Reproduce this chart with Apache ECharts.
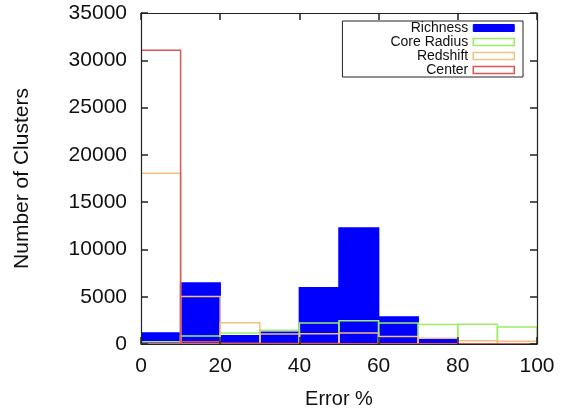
<!DOCTYPE html>
<html>
<head>
<meta charset="utf-8">
<script src="https://cdn.jsdelivr.net/npm/echarts@6/dist/echarts.min.js"></script>
<style>
  html, body { margin: 0; padding: 0; background: #fff; }
  #chart { width: 561px; height: 415px; }
</style>
</head>
<body>
<div id="chart"></div>
<script>
// bin left edges (Error %), each bin is 10 wide
var binStarts = [0, 10, 20, 30, 40, 50, 60, 70, 80, 90];
var binWidth = 10;

var richness   = [1150, 6450, 880, 1250, 5950, 12270, 2850, 480, 0, 0];
var coreRadius = [250, 850, 1150, 1450, 2220, 2460, 2230, 2050, 2100, 1800];
var redshift   = [18050, 5030, 2250, 1050, 1080, 1150, 800, 600, 350, 280];
var center     = [31050, 250, 80, 50, 40, 30, 30, 20, 20, 20];

var yTicks = [0, 35000, 5000];   // min, max, step
var xTicks = [0, 100, 20];

var FONT = "'Liberation Sans', Arial, sans-serif";

function pairs(vals) {
  return binStarts.map(function (x, i) { return [x, vals[i]]; });
}

// box drawn through the axis scales
function boxRenderer(fill, stroke, lw) {
  return function (params, api) {
    var x0 = api.value(0);
    var p0 = api.coord([x0, api.value(1)]);
    var p1 = api.coord([x0 + binWidth, 0]);
    return {
      type: 'rect',
      shape: { x: p0[0], y: p0[1], width: p1[0] - p0[0], height: p1[1] - p0[1] },
      style: { fill: fill, stroke: stroke, lineWidth: lw }
    };
  };
}

function boxSeries(name, vals, fill, stroke) {
  return {
    name: name,
    type: 'custom',
    xAxisIndex: 0,
    yAxisIndex: 0,
    clip: true,
    z: 1,
    renderItem: boxRenderer(fill, stroke, 1.5),
    encode: { x: 0, y: 1 },
    itemStyle: { color: fill === 'none' ? stroke : fill },
    data: pairs(vals)
  };
}

var axisLine = { show: true, onZero: false, lineStyle: { color: '#222', width: 1.2 } };
var tick = { show: true, inside: true, length: 7, lineStyle: { color: '#222', width: 1.5 } };
var plain = function (v) { return String(v); };

var chart = echarts.init(document.getElementById('chart'));
chart.setOption({
  animation: false,
  textStyle: { fontFamily: FONT },
  grid: { left: 141, right: 24, top: 13, bottom: 71 },
  legend: {
    orient: 'vertical',
    right: 38,
    top: 21,
    align: 'right',
    itemWidth: 41,
    itemHeight: 7,
    itemGap: 0,
    padding: [0, 8, 0, 48],
    borderColor: '#222',
    borderWidth: 1,
    textStyle: { fontFamily: FONT, fontSize: 14, color: '#111', lineHeight: 13 },
    data: [
      { name: 'Richness', icon: 'rect', itemStyle: { color: '#0000ff', borderColor: '#0000ff', borderWidth: 1 } },
      { name: 'Core Radius', icon: 'rect', itemStyle: { color: '#fff', borderColor: '#99ee66', borderWidth: 1.5 } },
      { name: 'Redshift', icon: 'rect', itemStyle: { color: '#fff', borderColor: '#f0c080', borderWidth: 1.5 } },
      { name: 'Center', icon: 'rect', itemStyle: { color: '#fff', borderColor: '#dd5555', borderWidth: 1.5 } }
    ]
  },
  xAxis: [
    {
      type: 'value', min: xTicks[0], max: xTicks[1], interval: xTicks[2],
      name: 'Error %', nameLocation: 'middle', nameGap: 45,
      nameTextStyle: { fontFamily: FONT, fontSize: 20, color: '#111' },
      axisLine: axisLine, axisTick: tick, splitLine: { show: false }, z: 5,
      axisLabel: { fontFamily: FONT, fontSize: 21, color: '#111', margin: 12, formatter: plain }
    },
    {
      type: 'value', position: 'top', min: xTicks[0], max: xTicks[1], interval: xTicks[2],
      axisLine: axisLine, axisTick: tick, splitLine: { show: false }, z: 5,
      axisLabel: { show: false }
    }
  ],
  yAxis: [
    {
      type: 'value', min: yTicks[0], max: yTicks[1], interval: yTicks[2],
      name: 'Number of Clusters', nameLocation: 'middle', nameGap: 108,
      nameTextStyle: { fontFamily: FONT, fontSize: 21, color: '#111' },
      axisLine: axisLine, axisTick: tick, splitLine: { show: false }, z: 5,
      axisLabel: { fontFamily: FONT, fontSize: 21, color: '#111', margin: 14, formatter: plain }
    },
    {
      type: 'value', position: 'right', min: yTicks[0], max: yTicks[1], interval: yTicks[2],
      axisLine: axisLine, axisTick: tick, splitLine: { show: false }, z: 5,
      axisLabel: { show: false }
    }
  ],
  series: [
    boxSeries('Richness', richness, '#0000ff', '#0000ff'),
    boxSeries('Core Radius', coreRadius, 'none', '#99ee66'),
    boxSeries('Redshift', redshift, 'none', '#f0c080'),
    boxSeries('Center', center, 'none', '#dd5555')
  ]
});
</script>
</body>
</html>
